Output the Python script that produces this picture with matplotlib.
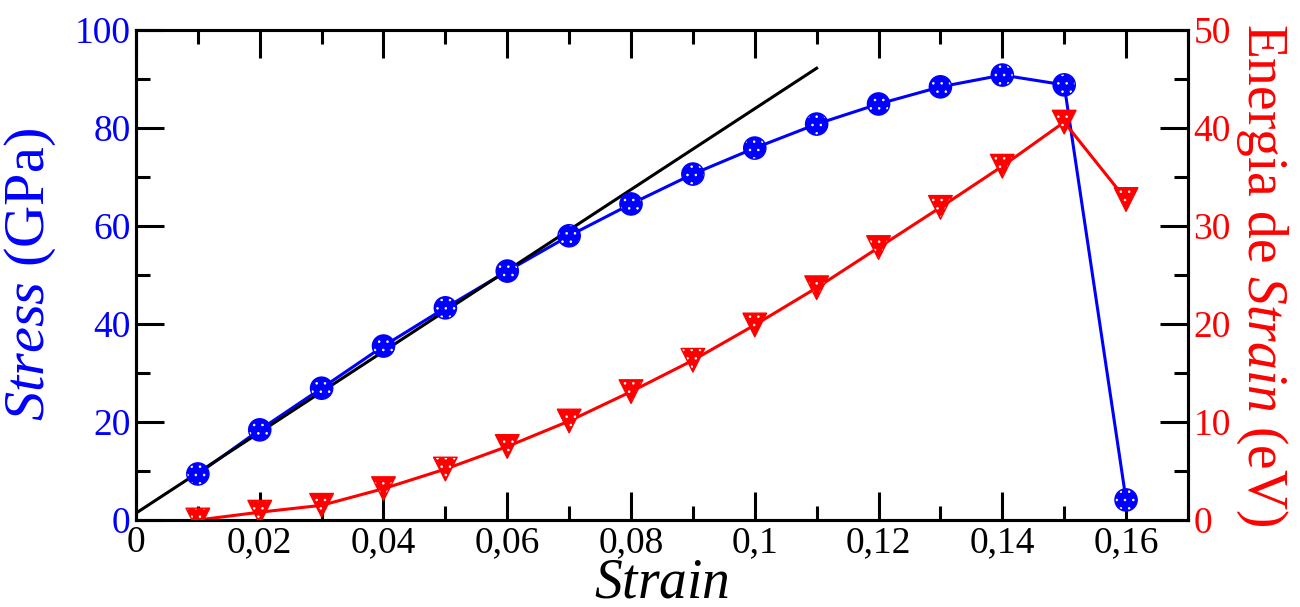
import matplotlib.pyplot as plt
import matplotlib as mpl
import matplotlib.font_manager as fm
import numpy as np

strain = [0.01, 0.02, 0.03, 0.04, 0.05, 0.06, 0.07, 0.08,
          0.09, 0.10, 0.11, 0.12, 0.13, 0.14, 0.15, 0.16]
stress = [9.4, 18.4, 26.9, 35.5, 43.3, 50.8, 58.0, 64.5,
          70.6, 75.9, 80.8, 84.9, 88.4, 90.8, 88.8, 4.1]
energy = [0.0, 0.8, 1.5, 3.2, 5.2, 7.5, 10.1, 13.1,
          16.3, 19.9, 23.7, 27.8, 31.9, 36.1, 40.6, 32.7]
# linear fit line (elastic region)
fit_x = [0.0, 0.11]
fit_y = [1.4, 92.2]

# make sure Liberation Serif is registered
serif_name = "Liberation Serif"
for f in fm.findSystemFonts():
    if "LiberationSerif" in f:
        fm.fontManager.addfont(f)
        if f.endswith("Regular.ttf"):
            serif_name = fm.FontProperties(fname=f).get_name()

plt.rcParams.update({
    'font.family': [serif_name, 'DejaVu Serif'],
    'mathtext.fontset': 'custom',
    'mathtext.rm': serif_name,
    'mathtext.it': serif_name + ':italic',
    'hatch.color': 'white',
    'hatch.linewidth': 0.6,
})

def comma_fmt(v, pos):
    if abs(v) < 1e-9:
        return "0"
    return f"{v:g}".replace(".", ",")

fig = plt.figure(figsize=(13, 6.07), dpi=100)
ax1 = fig.add_axes([0.1046, 0.1433, 0.8092, 0.8073])
ax2 = ax1.twinx()

blue = "#0000ff"
red = "#ff0000"
ms = 16

ax1.plot(fit_x, fit_y, color="black", lw=2.2, zorder=3)
ax1.plot(strain, stress, color=blue, lw=2.2, zorder=2)
ax1.scatter(strain, stress, s=ms**2, marker="o", c=blue, edgecolors="face",
            hatch="..", zorder=4)

ax2.plot(strain, energy, color=red, lw=2.2, zorder=2)
ax2.scatter(strain, energy, s=(ms + 1)**2, marker="v", c=red, edgecolors="face",
            hatch="..", zorder=4)

ax1.set_xlim(0, 0.17)
ax1.set_ylim(0, 100)
ax2.set_ylim(0, 50)

ax1.xaxis.set_major_locator(mpl.ticker.MultipleLocator(0.02))
ax1.xaxis.set_minor_locator(mpl.ticker.MultipleLocator(0.01))
ax1.xaxis.set_major_formatter(mpl.ticker.FuncFormatter(comma_fmt))
ax1.yaxis.set_major_locator(mpl.ticker.MultipleLocator(20))
ax1.yaxis.set_minor_locator(mpl.ticker.MultipleLocator(10))
ax2.yaxis.set_major_locator(mpl.ticker.MultipleLocator(10))
ax2.yaxis.set_minor_locator(mpl.ticker.MultipleLocator(5))

for ax in (ax1, ax2):
    for sp in ax.spines.values():
        sp.set_linewidth(2.2)
ax1.tick_params(axis="x", which="both", direction="in", top=True, width=2.2,
                labelsize=27, pad=4)
ax1.tick_params(axis="x", which="major", length=20)
ax1.tick_params(axis="x", which="minor", length=10)
ax1.tick_params(axis="y", which="both", direction="in", right=False, width=2.2,
                labelsize=27, labelcolor=blue, pad=4)
ax1.tick_params(axis="y", which="major", length=20)
ax1.tick_params(axis="y", which="minor", length=10)
ax2.tick_params(axis="y", which="both", direction="in", width=2.2,
                labelsize=27, labelcolor=red, pad=4)
ax2.tick_params(axis="y", which="major", length=20)
ax2.tick_params(axis="y", which="minor", length=10)

ax1.set_xlabel(r"$\mathit{Strain}$", fontsize=40, labelpad=-2)
ax1.set_ylabel(r"$\mathit{Stress}$ (GPa)", fontsize=42, color=blue, labelpad=12)
ax2.set_ylabel(r"Energia de $\mathit{Strain}$ (eV)", fontsize=40, color=red,
               rotation=270, labelpad=42)

fig.savefig("out.png", dpi=100)
